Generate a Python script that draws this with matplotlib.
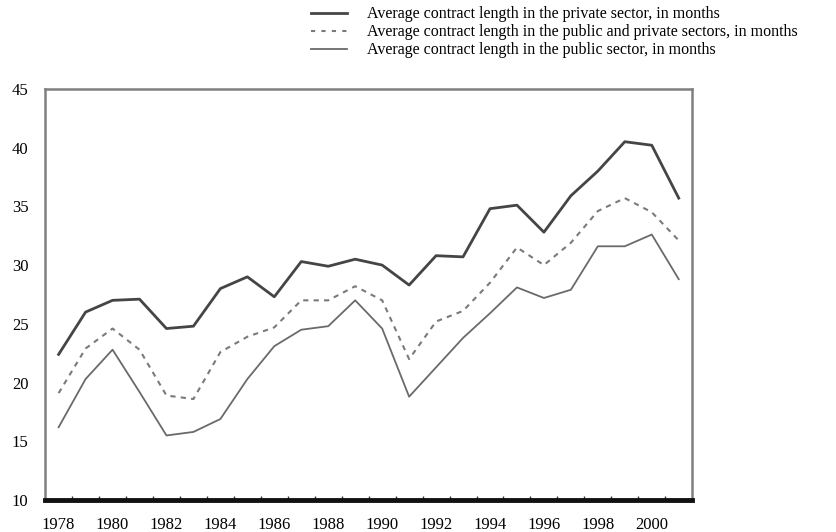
import numpy as np
import matplotlib
matplotlib.use("Agg")
import matplotlib.pyplot as plt

years = np.arange(1978, 2002)

private = [22.4, 26.0, 27.0, 27.1, 24.6, 24.8, 28.0, 29.0, 27.3, 30.3, 29.9, 30.5,
           30.0, 28.3, 30.8, 30.7, 34.8, 35.1, 32.8, 35.9, 38.0, 40.5, 40.2, 35.7]
both = [19.1, 22.9, 24.6, 22.8, 18.9, 18.6, 22.6, 23.9, 24.7, 27.0, 27.0, 28.2,
        27.0, 22.0, 25.2, 26.1, 28.5, 31.5, 30.0, 31.9, 34.6, 35.7, 34.5, 32.1]
public = [16.2, 20.3, 22.8, 19.2, 15.5, 15.8, 16.9, 20.3, 23.1, 24.5, 24.8, 27.0,
          24.6, 18.8, 21.3, 23.8, 25.9, 28.1, 27.2, 27.9, 31.6, 31.6, 32.6, 28.8]

labels = ["Average contract length in the private sector, in months",
          "Average contract length in the public and private sectors, in months",
          "Average contract length in the public sector, in months"]

plt.rcParams['font.family'] = ['Liberation Serif', 'DejaVu Serif']

fig = plt.figure(figsize=(8.36, 5.32), dpi=100)
ax = fig.add_axes([0.054, 0.060, 0.774, 0.773])

l1, = ax.plot(years, private, color='#454545', lw=2.0)
l2, = ax.plot(years, both, color='#7a7a7a', lw=1.5, ls=(0, (2.5, 2.5)))
l3, = ax.plot(years, public, color='#6a6a6a', lw=1.3)

ax.set_xlim(1977.5, 2001.5)
ax.set_ylim(10, 45)
ax.set_yticks(range(10, 46, 5))
ax.set_xticks(range(1978, 2001, 2))
ax.set_xticks(np.arange(1978.5, 2001, 1), minor=True)
ax.tick_params(axis='x', which='major', length=0, pad=12, labelsize=12)
ax.tick_params(axis='x', which='minor', direction='in', length=3, width=1, color='#333333')
ax.tick_params(axis='y', length=0, pad=12, labelsize=12)

for side in ['top', 'right', 'left']:
    ax.spines[side].set_color('#808080')
    ax.spines[side].set_linewidth(1.8)
ax.spines['bottom'].set_color('#111111')
ax.spines['bottom'].set_linewidth(3.5)

leg = fig.legend([l1, l2, l3], labels, loc='upper left', bbox_to_anchor=(0.36, 1.006),
                 frameon=False, fontsize=11.5, handlelength=2.3, handletextpad=1.25,
                 labelspacing=0.12, borderaxespad=0.2)
leg.get_lines()[1].set_linestyle((0, (2, 3)))

fig.savefig("out.png", dpi=100)
